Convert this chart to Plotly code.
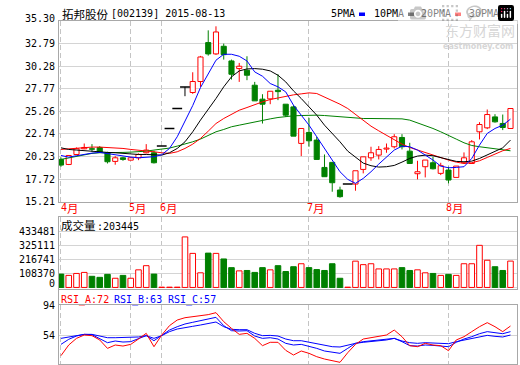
import plotly.graph_objects as go

# ---------------- data ----------------
opens  = [19.91,19.35,20.46,21.09,21.10,21.24,20.65,19.69,20.09,19.83,20.09,20.65,20.65,21.39,23.35,25.57,27.97,27.35,28.57,32.90,
          31.64,32.49,30.86,30.01,29.82,28.16,26.61,26.64,27.60,26.05,25.75,21.69,22.91,22.06,19.02,19.58,16.51,17.17,17.17,18.80,
          20.09,20.39,21.06,21.32,22.35,20.83,18.32,19.10,19.54,18.36,18.73,17.91,19.54,19.46,22.98,23.42,24.64,23.91,23.35]
highs  = [20.13,20.40,21.24,21.68,21.61,21.39,20.76,20.28,20.20,20.20,20.58,21.61,20.87,21.39,23.35,25.57,27.97,29.60,31.42,34.26,
          34.71,32.79,31.01,30.64,31.38,28.53,27.16,27.49,29.38,26.05,25.94,23.35,24.53,22.43,20.46,19.58,16.88,17.17,18.65,20.20,
          21.32,21.39,21.68,22.72,22.72,21.76,19.76,19.84,20.20,19.54,19.10,19.17,20.69,22.06,24.05,25.46,24.94,24.90,25.57]
lows   = [19.10,19.28,20.40,21.05,20.76,20.65,19.46,19.32,19.76,19.80,19.83,20.58,19.46,21.39,23.35,25.57,26.94,27.20,27.97,31.45,
          31.53,31.01,28.79,28.53,28.72,26.42,23.90,26.05,26.50,24.64,22.50,20.28,21.32,19.91,17.99,16.32,15.65,17.17,16.43,18.36,
          19.76,19.91,20.65,21.13,21.02,19.46,17.69,17.91,18.80,18.17,17.25,17.91,19.40,19.46,22.13,23.28,24.00,23.17,23.35]
closes = [19.28,20.35,21.09,21.24,21.04,20.72,19.65,20.09,19.91,20.09,20.46,20.95,19.54,21.39,23.35,25.57,27.97,28.57,31.30,31.64,
          34.08,31.56,29.38,30.27,29.27,26.42,26.05,27.49,27.45,24.83,22.50,23.35,21.98,19.91,17.99,17.32,15.77,17.17,18.65,20.20,
          20.65,21.02,21.17,22.43,21.32,19.46,18.54,19.84,18.87,19.21,17.62,19.17,20.09,21.87,23.79,24.90,24.09,23.46,25.57]

ma5  = [20.35,20.17,20.32,20.50,20.61,20.69,20.54,20.39,20.32,20.17,20.09,20.17,20.21,20.43,21.13,22.43,24.10,25.90,27.90,29.45,
        30.94,31.60,31.60,31.38,30.86,29.64,29.16,28.35,27.98,27.42,25.94,24.83,23.72,22.43,21.13,19.84,18.54,17.69,17.25,17.80,
        18.54,19.39,20.20,20.95,21.39,21.32,20.95,20.39,19.84,19.17,18.98,19.02,19.10,20.02,21.50,22.80,23.35,23.72,24.39]
ma10 = [21.20,21.02,20.95,20.87,20.83,20.76,20.69,20.65,20.58,20.50,20.46,20.46,20.43,20.39,20.65,21.13,21.87,22.98,24.28,25.45,
        26.68,27.98,29.09,29.75,29.97,30.01,29.94,29.75,29.27,28.53,27.53,26.68,25.75,24.83,23.72,22.80,21.87,20.83,20.13,19.50,
        19.21,19.06,19.10,19.24,19.61,20.02,20.28,20.39,20.32,20.09,19.84,19.69,19.65,19.72,20.02,20.39,20.76,21.20,22.06]
ma20 = [21.02,21.09,21.17,21.24,21.28,21.28,21.24,21.20,21.13,21.02,20.95,20.87,20.76,20.65,20.58,20.76,21.13,21.61,22.24,23.05,
        23.90,24.46,24.94,25.38,25.68,26.01,26.31,26.57,26.75,26.94,27.09,27.20,27.31,27.24,26.87,26.50,26.05,25.57,24.94,24.24,
        23.61,23.09,22.61,22.13,21.61,21.24,20.95,20.65,20.35,20.09,19.84,19.61,19.46,19.54,19.76,20.13,20.50,20.87,21.13]
ma30 = [19.91,20.09,20.28,20.43,20.58,20.65,20.69,20.69,20.69,20.72,20.76,20.83,20.95,21.02,21.17,21.39,21.61,21.87,22.17,22.55,
        22.98,23.24,23.54,23.72,23.91,24.09,24.28,24.42,24.57,24.68,24.76,24.79,24.83,24.83,24.79,24.72,24.64,24.57,24.50,24.46,
        24.46,24.46,24.46,24.50,24.42,24.28,23.98,23.68,23.35,22.98,22.61,22.17,21.76,21.46,21.32,21.20,21.13,21.02,20.87]

volumes = [103000,93000,108000,116000,86000,78000,101000,71000,93000,71000,136000,168000,103000,2000,2000,2000,390000,263000,113000,265000,
           263000,220000,153000,128000,131000,116000,153000,136000,168000,123000,160000,183000,153000,138000,131000,183000,71000,2000,203000,176000,
           183000,143000,143000,143000,153000,131000,136000,113000,108000,93000,101000,93000,183000,183000,325000,210000,160000,131000,203445]

rsi_a = [25.7,40.3,49.4,54.0,53.1,47.2,35.7,40.3,38.9,41.2,48.5,56.3,38.0,54.0,66.8,74.5,77.7,79.1,80.5,81.9,
         84.6,72.3,63.1,54.9,56.3,49.4,39.4,44.0,44.0,33.0,26.6,32.1,28.9,24.3,21.1,19.3,16.6,29.8,41.2,48.5,
         50.3,51.7,54.0,60.8,51.7,39.4,38.0,42.6,40.3,39.4,32.5,47.2,51.7,58.6,65.4,70.9,65.4,58.6,66.3]
rsi_b = [41.2,48.1,52.6,54.9,54.5,49.4,43.5,45.8,44.4,44.9,48.5,53.1,46.2,54.0,60.8,65.4,69.1,71.4,73.6,75.9,
         78.2,66.8,59.9,59.5,59.9,52.6,49.4,50.3,48.5,42.6,40.3,41.2,38.9,35.7,32.1,30.3,28.9,35.7,42.6,44.9,
         45.8,46.7,48.1,49.4,44.9,39.4,38.9,40.3,39.8,39.4,38.0,44.0,48.5,51.7,55.8,58.6,57.2,55.8,58.6]
rsi_c = [49.4,51.3,53.5,54.9,54.9,53.1,50.3,50.3,50.3,50.3,51.3,53.1,49.4,53.1,58.6,62.2,64.5,65.9,67.7,69.5,
         71.8,65.4,61.8,61.3,61.3,56.3,53.1,53.5,52.6,48.5,46.2,46.2,44.0,41.7,39.4,38.0,37.6,40.3,42.6,44.0,
         44.9,45.8,47.2,49.4,45.8,43.5,42.6,43.5,43.0,42.6,42.1,44.9,47.2,49.4,51.7,53.5,52.2,51.3,54.0]

month_starts = [0, 9, 13, 32, 50]
month_nums = ["4", "5", "6", "7", "8"]
month_suffix = "月"
price_ticks = [15.21, 17.72, 20.23, 22.74, 25.26, 27.77, 30.28, 32.79, 35.30]
vol_ticks = [0, 108370, 216741, 325111, 433481]
rsi_ticks = [13, 54, 94]

stock_name = "拓邦股份"
stock_info = "[002139] 2015-08-13"
vol_name = "成交量"
vol_value = ":203445"
rsi_labels = ["RSI_A:72", "RSI_B:63", "RSI_C:57"]
ma_names = ["5PMA", "10PMA", "20PMA", "30PMA"]

# ---------------- styling ----------------
RED = "#ff0000"
GREEN = "#008000"
BLUE = "#0000ff"
BLACK = "#000000"
GRID = "#d4d4d4"
BORDER = "#a8a8a8"
VGRID = "#c4c4c4"
MONO = "DejaVu Sans Mono"
CJK = "Noto Sans CJK SC"
W, H = 520, 365
n = len(closes)
xs = list(range(n))


def py(px):
    return 1 - px / H


def pxx(px):
    return px / W


fig = go.Figure()

# ---- candles ----
up = [i for i in xs if closes[i] > opens[i]]
dn = [i for i in xs if closes[i] < opens[i]]
flat = [i for i in xs if closes[i] == opens[i]]


def wick_xy(idx):
    wx, wy = [], []
    for i in idx:
        top = max(opens[i], closes[i])
        bot = min(opens[i], closes[i])
        if highs[i] > top:
            wx += [i, i, None]
            wy += [top, highs[i], None]
        if lows[i] < bot:
            wx += [i, i, None]
            wy += [lows[i], bot, None]
    return wx, wy


for idx, col in [(up, RED), (dn, GREEN), (flat, BLACK)]:
    wx, wy = wick_xy(idx)
    fig.add_trace(go.Scatter(x=wx, y=wy, mode="lines", line=dict(color=col, width=1),
                             hoverinfo="skip", showlegend=False, xaxis="x", yaxis="y"))

fig.add_trace(go.Bar(x=up, y=[closes[i] - opens[i] for i in up], base=[opens[i] for i in up],
                     width=0.66, marker=dict(color="white", line=dict(color=RED, width=1)),
                     hoverinfo="skip", showlegend=False, xaxis="x", yaxis="y"))
fig.add_trace(go.Bar(x=dn, y=[opens[i] - closes[i] for i in dn], base=[closes[i] for i in dn],
                     width=0.66, marker=dict(color=GREEN, line=dict(color=GREEN, width=1)),
                     hoverinfo="skip", showlegend=False, xaxis="x", yaxis="y"))
fig.add_trace(go.Scatter(x=flat, y=[closes[i] for i in flat], mode="markers",
                         marker=dict(symbol="line-ew", size=7, line=dict(color=BLACK, width=1.5)),
                         hoverinfo="skip", showlegend=False, xaxis="x", yaxis="y"))

# ---- moving averages ----
for ser, col in [(ma30, GREEN), (ma20, RED), (ma10, BLACK), (ma5, BLUE)]:
    fig.add_trace(go.Scatter(x=xs, y=ser, mode="lines", line=dict(color=col, width=1),
                             hoverinfo="skip", showlegend=False, xaxis="x", yaxis="y"))

# ---- volume ----
vup = [i for i in xs if closes[i] >= opens[i]]
vdn = [i for i in xs if closes[i] < opens[i]]
fig.add_trace(go.Bar(x=vup, y=[volumes[i] for i in vup], width=0.72,
                     marker=dict(color="white", line=dict(color=RED, width=1)),
                     hoverinfo="skip", showlegend=False, xaxis="x2", yaxis="y2"))
fig.add_trace(go.Bar(x=vdn, y=[volumes[i] for i in vdn], width=0.72,
                     marker=dict(color=GREEN, line=dict(color=GREEN, width=1)),
                     hoverinfo="skip", showlegend=False, xaxis="x2", yaxis="y2"))

# ---- RSI ----
for ser, col in [(rsi_c, BLUE), (rsi_b, BLUE), (rsi_a, RED)]:
    fig.add_trace(go.Scatter(x=xs, y=ser, mode="lines", line=dict(color=col, width=1),
                             hoverinfo="skip", showlegend=False, xaxis="x3", yaxis="y3"))

xdom = [pxx(58.5), pxx(517)]
xcommon = dict(domain=xdom, range=[-0.32, 58.84], tickvals=month_starts, showticklabels=False,
               showgrid=True, gridcolor=VGRID, griddash="5px,3px", gridwidth=1, zeroline=False,
               showline=True, linecolor=BORDER, linewidth=1, mirror=True, ticks="", fixedrange=True)
ycommon = dict(showgrid=True, gridcolor=GRID, gridwidth=1, zeroline=False, showline=True,
               linecolor=BORDER, linewidth=1, mirror=True, ticks="", showticklabels=False,
               automargin=False, fixedrange=True)

fig.update_layout(
    width=W, height=H, margin=dict(l=0, r=0, t=0, b=0, pad=0), autosize=False,
    paper_bgcolor="white", plot_bgcolor="white", barmode="overlay", showlegend=False,
    xaxis=dict(**xcommon, anchor="y"),
    xaxis2=dict(**xcommon, anchor="y2", matches="x"),
    xaxis3=dict(**xcommon, anchor="y3", matches="x"),
    yaxis=dict(**ycommon, domain=[py(201.7), py(21)], range=[15.21, 35.30], tickvals=price_ticks),
    yaxis2=dict(**ycommon, domain=[py(289), py(217)], range=[-12000, 543800], tickvals=vol_ticks),
    yaxis3=dict(**ycommon, domain=[py(364), py(305)], range=[14.3, 95.1], tickvals=rsi_ticks),
)

ann = []


def label(text, x, y, xanchor="left", color=BLACK, family=MONO, size=10, xref="paper", yref="paper",
          yshift=0, xshift=0):
    ann.append(dict(text=text, x=x, y=y, xref=xref, yref=yref, xanchor=xanchor, yanchor="middle",
                    showarrow=False, xshift=xshift, yshift=yshift, borderpad=0,
                    font=dict(family=family, size=size, color=color)))


# axis tick labels (placed at the axis values)
for v in price_ticks:
    label(f"{v:.2f}", pxx(55.5), v, xanchor="right", yref="y", yshift=2 if v == price_ticks[-1] else 0)
for v in vol_ticks:
    label(str(v), pxx(55.5), v, xanchor="right", yref="y2", yshift=4 if v == 0 else -0.5)
for v in rsi_ticks:
    label(str(v), pxx(55.5), v, xanchor="right", yref="y3", yshift=5 if v == 13 else 0)

# title
label(stock_name, pxx(61), py(13.5), family=CJK, size=11.5)
label(stock_info, pxx(110), py(13.5))
# MA legend: text sits just left of its colour square
sq_x = [359, 408, 455, 503]
ma_cols = [BLUE, BLACK, RED, GREEN]
shapes = []
for name, sx, col in zip(ma_names, sq_x, ma_cols):
    label(name, pxx(sx - 3), py(14), xanchor="right")
    shapes.append(dict(type="rect", xref="paper", yref="paper", x0=pxx(sx), x1=pxx(sx + 6),
                       y0=py(16), y1=py(12.5), fillcolor=col, line=dict(width=0)))
# month labels
for m, num in zip(month_starts, month_nums):
    sh = -1 if m == 0 else -3
    label(num, m, py(207.5), color=RED, xref="x", xshift=sh)
    label(month_suffix, m, py(207.5), color=RED, xref="x", xshift=sh + 6, family=CJK, size=11.5)
# volume header
label(vol_name, pxx(60), py(225.5), family=CJK, size=11.5)
label(vol_value, pxx(96), py(226))
# RSI header
for lab, lx, col in zip(rsi_labels, [60, 113, 167], [RED, BLUE, BLUE]):
    label(lab, pxx(lx), py(299.5), color=col)
# watermark
label("东方财富网", pxx(516), py(30), xanchor="right", family=CJK, size=14, color="#d6d6d6")
label("<b>eastmoney.com</b>", pxx(514), py(46), xanchor="right", family="DejaVu Sans", size=8, color="#d6d6d6")
shapes.append(dict(type="line", xref="paper", yref="paper", x0=xdom[0], x1=xdom[0],
                   y0=py(305), y1=py(289), line=dict(color=BORDER, width=1)))

fig.update_layout(annotations=ann, shapes=shapes)
fig.write_html("out.html",
               post_script="document.body.style.margin='0px';document.body.style.overflow='hidden';")
